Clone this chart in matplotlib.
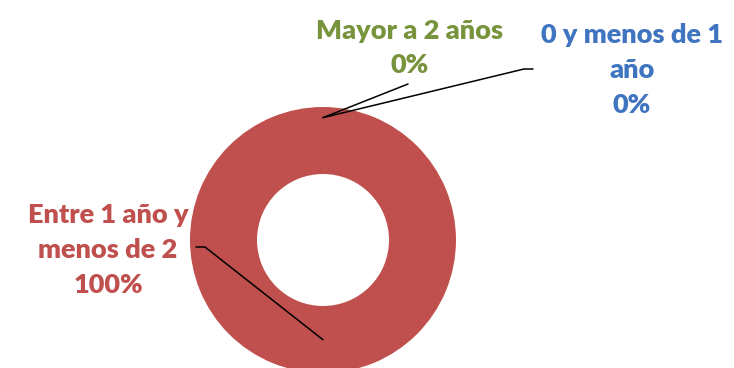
import numpy as np
import matplotlib
matplotlib.use("Agg")
import matplotlib.pyplot as plt

# data
categories = ["0 y menos de 1\naño", "Entre 1 año y\nmenos de 2", "Mayor a 2 años"]
values = [0, 100, 0]
pct_labels = ["0%", "100%", "0%"]
colors = ["#4F81BD", "#C0504D", "#77933C"]
text_colors = ["#3F74C0", "#C0504D", "#77933C"]

W, H = 734, 368
fig = plt.figure(figsize=(W / 100, H / 100), dpi=100)
ax = fig.add_axes([0, 0, 1, 1])

cx, cy, r = 323, H - 240, 133
wedges, _ = ax.pie(values, colors=colors, startangle=90, counterclock=False,
                   center=(cx, cy), radius=r, frame=True,
                   wedgeprops=dict(width=67, linewidth=0))
ax.set_xlim(0, W)
ax.set_ylim(0, H)
ax.set_aspect("equal")
ax.axis("off")

# label placement (text centre, elbow point, end point) in pixels from top-left
label_pos = [(632, 70), (108, 250), (410, 48)]
elbows = [(524, 69), (205, 247), (408, 84)]
ends = [(533, 69), (196, 247), None]
anchor_r = [0.92, 0.75, 0.92]

font = ["Lato", "DejaVu Sans"]
for i, w in enumerate(wedges):
    ang = np.deg2rad((w.theta1 + w.theta2) / 2)
    ax_ = cx + anchor_r[i] * r * np.cos(ang)
    ay_ = cy + anchor_r[i] * r * np.sin(ang)
    ex, ey = elbows[i]
    xs = [ax_, ex]
    ys = [ay_, H - ey]
    if ends[i] is not None:
        xs.append(ends[i][0])
        ys.append(H - ends[i][1])
    ax.plot(xs, ys, color="black", lw=1.1, solid_capstyle="round")
    tx, ty = label_pos[i]
    ax.text(tx, H - ty, categories[i] + "\n" + pct_labels[i], ha="center", va="center",
            color=text_colors[i], fontsize=19.5, fontweight="heavy", family=font,
            linespacing=1.53)

fig.savefig("out.png", dpi=100)
